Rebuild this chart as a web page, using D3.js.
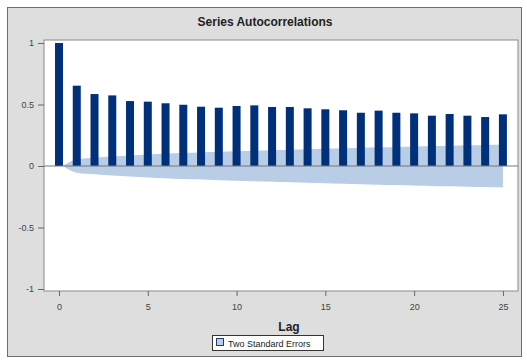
<!DOCTYPE html>
<html>
<head>
<meta charset="utf-8">
<script src="https://cdn.jsdelivr.net/npm/d3@7"></script>
<style>
  body { margin: 0; background: #fff; font-family: "Liberation Sans", Arial, sans-serif; }
</style>
</head>
<body>
<svg id="chart"></svg>
<script>
const WIDTH = 527
const HEIGHT = 360
const PLOT = { left: 44, right: 518, top: 40, bottom: 291 }

// lags and autocorrelations
const lags = d3.range(0, 26)
const acf = [1.0, 0.653, 0.585, 0.574, 0.528, 0.523, 0.51, 0.498, 0.482, 0.474,
             0.488, 0.493, 0.48, 0.48, 0.469, 0.461, 0.453, 0.433, 0.45, 0.433,
             0.428, 0.409, 0.423, 0.409, 0.398, 0.42]
// half width of the two standard error band
const band = [0, 0.055, 0.068, 0.078, 0.086, 0.093, 0.099, 0.105, 0.11, 0.115,
              0.12, 0.124, 0.128, 0.132, 0.136, 0.14, 0.144, 0.148, 0.152, 0.155,
              0.159, 0.162, 0.165, 0.168, 0.171, 0.175]
const xTicks = [0, 5, 10, 15, 20, 25]
const yTicks = [-1, -0.5, 0, 0.5, 1]

let svg = d3.select("#chart")
  .attr("width", WIDTH)
  .attr("height", HEIGHT)

// gray frame
svg.append("rect")
  .attr("x", 7.5).attr("y", 7.5)
  .attr("width", 514).attr("height", 349)
  .attr("fill", "#dedede")
  .attr("stroke", "#6f6f6f")

svg.append("rect")
  .attr("x", PLOT.left).attr("y", PLOT.top)
  .attr("width", PLOT.right - PLOT.left).attr("height", PLOT.bottom - PLOT.top)
  .attr("fill", "#fff")
  .attr("stroke", "#8a8a8a")

let x = d3.scaleLinear().domain([-0.845, 25.85]).range([PLOT.left, PLOT.right])
let y = d3.scaleLinear().domain([-1, 1]).range([289, 43])

// confidence band
let area = d3.area()
  .x((d, i) => x(lags[i]) + (i == 0 ? 4 : 0))
  .y0((d, i) => y(-band[i]))
  .y1((d, i) => y(band[i]))
  .curve(d3.curveMonotoneX)

svg.append("path")
  .datum(band)
  .attr("d", area)
  .attr("fill", "#b9cde6")

// bars
svg.append("g")
  .selectAll("rect")
  .data(acf)
  .enter()
  .append("rect")
  .attr("x", (d, i) => x(lags[i]) - 4)
  .attr("width", 8)
  .attr("y", d => y(d))
  .attr("height", d => y(0) - y(d))
  .attr("fill", "#00307a")

// zero line
svg.append("line")
  .attr("x1", PLOT.left).attr("x2", PLOT.right)
  .attr("y1", y(0)).attr("y2", y(0))
  .attr("stroke", "#777")
  .attr("stroke-width", 1)

// axes
let yAxis = d3.axisLeft(y).tickValues(yTicks).tickSize(6).tickPadding(4)
  .tickFormat(v => v)
let yg = svg.append("g")
  .attr("transform", `translate(${PLOT.left},0)`)
  .call(yAxis)

let xAxis = d3.axisBottom(x).tickValues(xTicks).tickSize(5).tickPadding(8)
let xg = svg.append("g")
  .attr("transform", `translate(0,${PLOT.bottom})`)
  .call(xAxis)

for (let g of [xg, yg]) {
  g.select(".domain").remove()
  g.selectAll("line").attr("stroke", "#666")
  g.selectAll("text")
    .attr("fill", "#444")
    .style("font-size", "9px")
    .style("font-family", "Liberation Sans, Arial, sans-serif")
}

svg.append("text")
  .attr("x", 265).attr("y", 26)
  .attr("text-anchor", "middle")
  .style("font-size", "12px")
  .style("font-weight", "bold")
  .attr("fill", "#222")
  .text("Series Autocorrelations")

svg.append("text")
  .attr("x", 289).attr("y", 331)
  .attr("text-anchor", "middle")
  .style("font-size", "12px")
  .style("font-weight", "bold")
  .attr("fill", "#222")
  .text("Lag")

// legend
let leg = svg.append("g")
leg.append("rect")
  .attr("x", 212.5).attr("y", 335.5)
  .attr("width", 111).attr("height", 15)
  .attr("fill", "#fff")
  .attr("stroke", "#333")
leg.append("rect")
  .attr("x", 216.5).attr("y", 338.5)
  .attr("width", 7).attr("height", 7)
  .attr("fill", "#b9cde6")
  .attr("stroke", "#1f3d6d")
leg.append("text")
  .attr("x", 228).attr("y", 346.5)
  .style("font-size", "9px")
  .attr("fill", "#222")
  .text("Two Standard Errors")
</script>
</body>
</html>
